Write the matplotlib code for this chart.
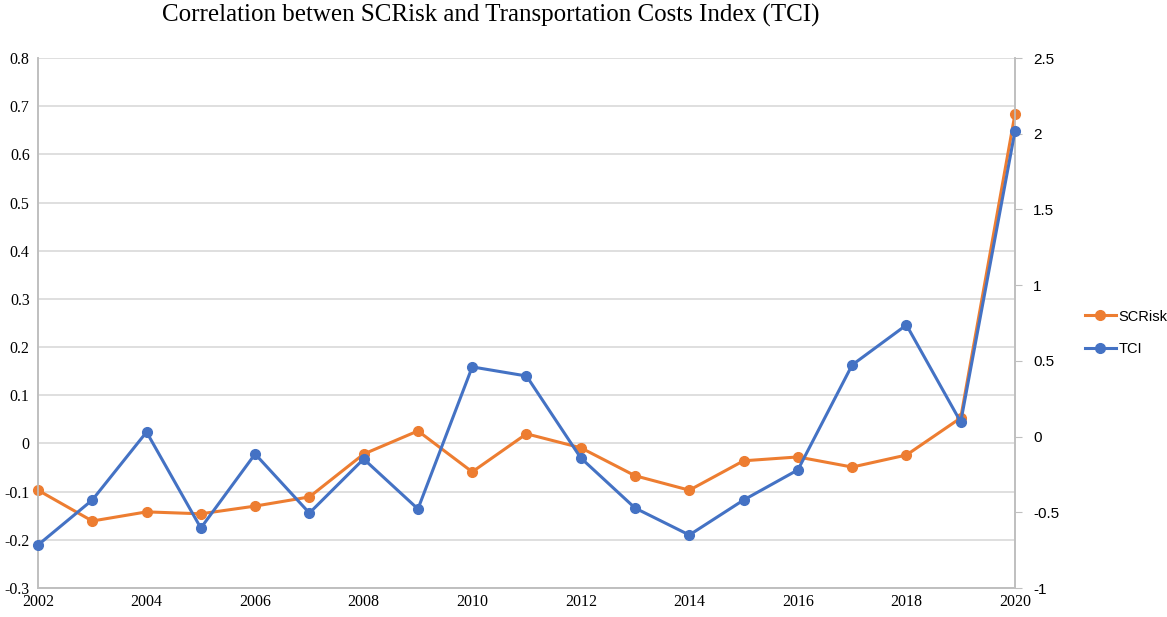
import matplotlib
matplotlib.use("Agg")
import matplotlib.pyplot as plt
from matplotlib.lines import Line2D

years = list(range(2002, 2021))
scrisk = [-0.097, -0.161, -0.142, -0.146, -0.130, -0.111, -0.022, 0.026, -0.059, 0.020,
          -0.009, -0.067, -0.097, -0.036, -0.028, -0.049, -0.024, 0.053, 0.684]
tci = [-0.716, -0.419, 0.030, -0.604, -0.115, -0.505, -0.148, -0.478, 0.460, 0.400,
       -0.141, -0.472, -0.650, -0.419, -0.220, 0.473, 0.737, 0.096, 2.018]
left_ticks = [-0.3, -0.2, -0.1, 0, 0.1, 0.2, 0.3, 0.4, 0.5, 0.6, 0.7, 0.8]
right_ticks = [-1, -0.5, 0, 0.5, 1, 1.5, 2, 2.5]
x_ticks = list(range(2002, 2021, 2))

orange = "#ED7D31"
blue = "#4472C4"
serif = "Liberation Serif"
sans = "Liberation Sans"

fig = plt.figure(figsize=(11.67, 6.17), dpi=100)
ax = fig.add_axes([38/1167, 1-588/617, (1015-38)/1167, (588-58)/617])
ax2 = ax.twinx()

ax.set_ylim(-0.3, 0.8)
ax.set_xlim(2002, 2020)
ax2.set_ylim(-1, 2.5)

ax.set_yticks(left_ticks)
ax.set_yticklabels([("%g" % t) for t in left_ticks], fontfamily=serif, fontsize=11.5)
ax.set_xticks(x_ticks)
ax.set_xticklabels([str(t) for t in x_ticks], fontfamily=serif, fontsize=11.5)
ax2.set_yticks(right_ticks)
ax2.set_yticklabels([("%g" % t) for t in right_ticks], fontfamily=sans, fontsize=11)

ax.grid(axis="y", color="#D9D9D9", linewidth=1.2)
ax.set_axisbelow(True)
for a in (ax, ax2):
    for s in a.spines.values():
        s.set_color("#BFBFBF")
        s.set_linewidth(1.2)
    a.spines["top"].set_visible(False)
ax.tick_params(axis="y", length=0, pad=6)
ax.tick_params(axis="x", length=0, pad=4)
ax2.tick_params(axis="y", length=5, color="#BFBFBF", pad=8)

ax.plot(years, scrisk, color=orange, linewidth=2.2, marker="o", markersize=7, zorder=3, clip_on=False)
ax2.plot(years, tci, color=blue, linewidth=2.2, marker="o", markersize=7, zorder=3, clip_on=False)

handles = [Line2D([0], [0], color=orange, lw=2.2, marker="o", markersize=7),
           Line2D([0], [0], color=blue, lw=2.2, marker="o", markersize=7)]
fig.legend(handles, ["SCRisk", "TCI"], loc="center left", bbox_to_anchor=(1085/1167, 1-333/617),
           frameon=False, prop={"family": sans, "size": 10.5}, handlelength=2.1, labelspacing=1.3,
           handletextpad=0.2, borderaxespad=0, borderpad=0)

fig.text(491/1167, 1-15/617, "Correlation betwen SCRisk and Transportation Costs Index (TCI)",
         ha="center", va="center", fontfamily=serif, fontsize=18)

fig.savefig("out.png", dpi=100)
